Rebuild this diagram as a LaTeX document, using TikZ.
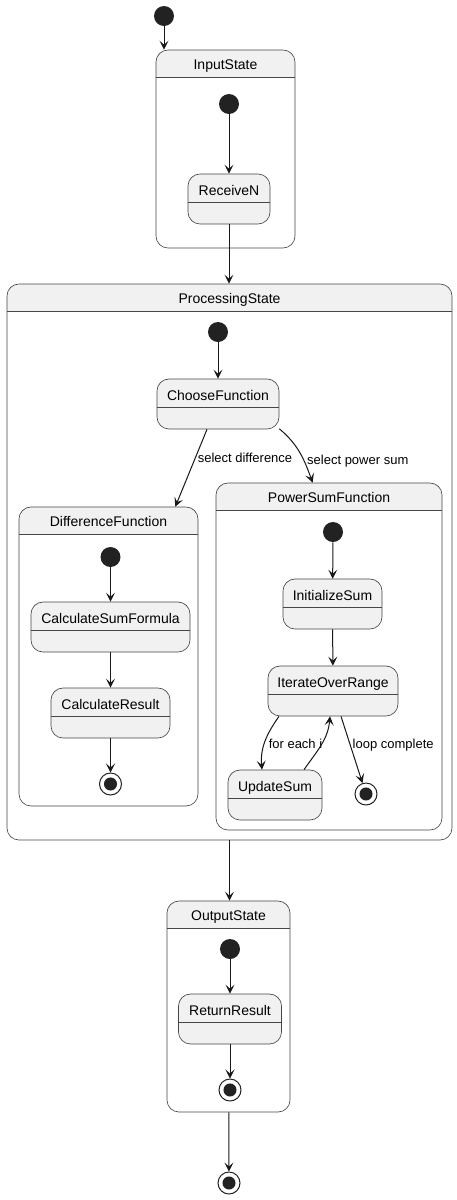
\documentclass[tikz,border=0pt]{standalone}
\usepackage{fontspec}
\setmainfont{Liberation Sans}
\usetikzlibrary{arrows.meta,positioning}
\definecolor{umlfill}{HTML}{F1F1F1}
\definecolor{umlline}{HTML}{181818}
\definecolor{umldot}{HTML}{222222}

\tikzset{
  stname/.style={font=\fontsize{10.5}{12}\selectfont, inner sep=0pt},
  tlabel/.style={font=\fontsize{9.75}{11}\selectfont, text=black, inner sep=1.5pt},
  simple/.style={draw=umlline!80, line width=0.5pt, fill=umlfill, rounded corners=9pt,
    minimum height=37.5pt, inner sep=0pt,
    path picture={\draw[umlline!80, line width=0.5pt, sharp corners]
      ([yshift=-21pt]path picture bounding box.north west) --
      ([yshift=-21pt]path picture bounding box.north east);}},
  composite/.style={draw=umlline!80, line width=0.5pt, fill=white, rounded corners=9pt, inner sep=0pt,
    path picture={\fill[umlfill, sharp corners] (path picture bounding box.north west)
      rectangle ([yshift=-20.25pt]path picture bounding box.north east);
      \draw[umlline!80, line width=0.5pt, sharp corners]
      ([yshift=-20.25pt]path picture bounding box.north west) --
      ([yshift=-20.25pt]path picture bounding box.north east);}},
  startdot/.style={circle, fill=umldot, minimum size=15pt, inner sep=0pt},
  enddot/.style={circle, draw=umldot, line width=0.75pt, fill=white, minimum size=16.5pt, inner sep=0pt,
    path picture={\fill[umldot] (path picture bounding box.center) circle (4.9pt);}},
  trans/.style={draw=umlline, line width=0.75pt, -{Stealth[length=6.75pt, width=6.75pt, inset=3pt]}},
}

\begin{document}
\begin{tikzpicture}[x=0.75pt, y=-0.75pt]
  \useasboundingbox (0,0) rectangle (457,1200);

  % outer states
  \node[composite, minimum width=104.25pt, minimum height=148.5pt,
    label={[stname, name=inputT, anchor=base, yshift=-15pt]north:InputState}] (inputS) at (225.5,149) {};
  \node[composite, minimum width=333.75pt, minimum height=417pt,
    label={[stname, name=procT, anchor=base, yshift=-15pt]north:ProcessingState}] (procS) at (229.5,562) {};
  \node[composite, minimum width=92.25pt, minimum height=158.25pt,
    label={[stname, name=outT, anchor=base, yshift=-15pt]north:OutputState}] (outS) at (228.5,1006.5) {};

  % nested states
  \node[composite, minimum width=134.25pt, minimum height=224.25pt,
    label={[stname, name=diffT, anchor=base, yshift=-15pt]north:DifferenceFunction}] (diffF) at (108.5,656.5) {};
  \node[composite, minimum width=169.5pt, minimum height=260.25pt,
    label={[stname, name=psT, anchor=base, yshift=-15pt]north:PowerSumFunction}] (psF) at (329,656.5) {};

  % pseudo states
  \node[startdot] (start0) at (164,16) {};
  \node[startdot] (in0) at (229,104) {};
  \node[startdot] (proc0) at (218,332) {};
  \node[startdot] (diff0) at (110.5,557) {};
  \node[startdot] (ps0) at (333,532) {};
  \node[startdot] (out0) at (230,949) {};
  \node[enddot] (diffEnd) at (110.5,784) {};
  \node[enddot] (psEnd) at (366,794) {};
  \node[enddot] (outEnd) at (230,1090) {};
  \node[enddot] (endF) at (229,1183) {};

  % simple states
  \node[simple, minimum width=61.5pt,
    label={[stname, name=receiveT, anchor=base, yshift=-16pt]north:ReceiveN}] (receiveN) at (229,199) {};
  \node[simple, minimum width=91.5pt,
    label={[stname, name=chooseT, anchor=base, yshift=-16pt]north:ChooseFunction}] (chooseF) at (218,404) {};
  \node[simple, minimum width=119.25pt,
    label={[stname, name=calcSumT, anchor=base, yshift=-16pt]north:CalculateSumFormula}] (calcSum) at (110.5,627) {};
  \node[simple, minimum width=89.25pt,
    label={[stname, name=calcResT, anchor=base, yshift=-16pt]north:CalculateResult}] (calcRes) at (110.5,713) {};
  \node[simple, minimum width=74.25pt,
    label={[stname, name=initT, anchor=base, yshift=-16pt]north:InitializeSum}] (initSum) at (332.5,604) {};
  \node[simple, minimum width=97.5pt,
    label={[stname, name=iterT, anchor=base, yshift=-16pt]north:IterateOverRange}] (iterR) at (333,691) {};
  \node[simple, minimum width=70.5pt,
    label={[stname, name=updT, anchor=base, yshift=-16pt]north:UpdateSum}] (updSum) at (275,795) {};
  \node[simple, minimum width=77.25pt,
    label={[stname, name=retT, anchor=base, yshift=-16pt]north:ReturnResult}] (retRes) at (230,1019) {};

  % transitions
  \draw[trans] (start0) -- (start0 |- inputS.north);
  \draw[trans] (in0) -- (receiveN);
  \draw[trans] (receiveN) -- (receiveN |- procS.north);
  \draw[trans] (proc0) -- (chooseF);
  \draw[trans] ([xshift=-8.25pt]chooseF.south) --
    node[tlabel, right, pos=0.37] {select difference} ([xshift=-17.25pt]diffF.north east);
  \draw[trans] (chooseF.-22) to[out=-40, in=110]
    node[tlabel, right, pos=0.55, yshift=-4pt, xshift=2.5pt] {select power sum} ([xshift=72.75pt]psF.north west);
  \draw[trans] (diff0) -- (calcSum);
  \draw[trans] (calcSum) -- (calcRes);
  \draw[trans] (calcRes) -- (diffEnd);
  \draw[trans] (ps0) -- (initSum);
  \draw[trans] (initSum) -- (iterR);
  \draw[trans] ([xshift=-40.5pt]iterR.south) to[out=-125, in=95]
    node[tlabel, right, pos=0.55, xshift=1.5pt] {for each i} ([xshift=-9.75pt]updSum.north);
  \draw[trans] ([xshift=21.75pt]updSum.north) to[out=55, in=-95] ([xshift=-2.25pt]iterR.south);
  \draw[trans] ([xshift=6pt]iterR.south) --
    node[tlabel, right, pos=0.43] {loop complete} (psEnd);
  \draw[trans] (procS.south) -- (procS.south |- outS.north);
  \draw[trans] (out0) -- (retRes);
  \draw[trans] (retRes) -- (outEnd);
  \draw[trans] (outS) -- (endF);
\end{tikzpicture}
\end{document}
